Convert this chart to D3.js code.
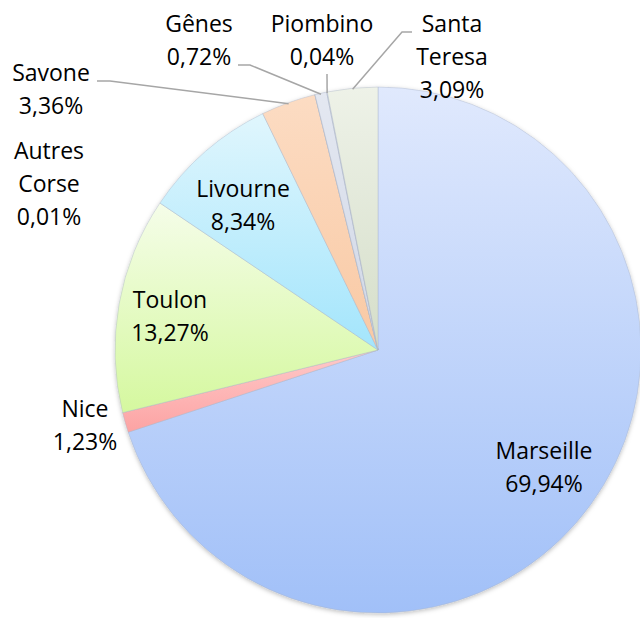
<!DOCTYPE html>
<html>
<head>
<meta charset="utf-8">
<script src="https://cdn.jsdelivr.net/npm/d3@7"></script>
<style>
  body { margin: 0; background: #fff; }
  svg text { font-family: "Open Sans", sans-serif; font-size: 23px; fill: #000; }
</style>
</head>
<body>
<svg id="chart" width="640" height="618"></svg>
<script>
const ports = ["Marseille", "Nice", "Toulon", "Livourne", "Savone", "Autres Corse", "Gênes", "Piombino", "Santa Teresa"];
const shares = [69.94, 1.23, 13.27, 8.34, 3.36, 0.01, 0.72, 0.04, 3.09];
const labelLines = [["Marseille"], ["Nice"], ["Toulon"], ["Livourne"], ["Savone"], ["Autres", "Corse"], ["Gênes"], ["Piombino"], ["Santa", "Teresa"]];

// gradient stops per slice (top, bottom)
const colors = [
	["#e0e9fd", "#a1c0f8"],
	["#ffcaca", "#fca3a3"],
	["#f5fde9", "#d5f89f"],
	["#e0f6fd", "#a3e5fc"],
	["#fcdcc3", "#f9c9a4"],
	["#e4e4e4", "#d0d0d0"],
	["#e4e8f1", "#d0d7e6"],
	["#e4e8f1", "#d0d7e6"],
	["#eef2e8", "#d5dec9"]
];

// label placement (x centre, first baseline) and leader start points
const labelLayout = {
	"Marseille":    {x: 544, y: 459},
	"Nice":         {x: 85,  y: 417},
	"Toulon":       {x: 170, y: 308},
	"Livourne":     {x: 243, y: 197},
	"Savone":       {x: 51,  y: 81,  leader: [[97, 81], [110, 81]]},
	"Autres Corse": {x: 49,  y: 159},
	"Gênes":        {x: 199, y: 32,  leader: [[238, 65], [250, 65]]},
	"Piombino":     {x: 322, y: 32,  leader: [[327, 74]]},
	"Santa Teresa": {x: 452, y: 32,  leader: [[412, 32], [402, 32]]}
};

const cx = 378, cy = 350, radius = 263, lineH = 33;
const fr = d3.formatLocale({decimal: ",", thousands: " ", grouping: [3], currency: ["", "€"]});
const pct = v => fr.format(".2f")(v) + "%";

const data = ports.map((p, i) => ({name: p, value: shares[i], lines: labelLines[i], color: colors[i]}));

const svg = d3.select("#chart");
const defs = svg.append("defs");

defs.append("filter").attr("id", "shadow")
	.attr("x", "-10%").attr("y", "-10%").attr("width", "120%").attr("height", "120%")
	.append("feDropShadow")
	.attr("dx", 0).attr("dy", 1.5).attr("stdDeviation", 2)
	.attr("flood-color", "#000").attr("flood-opacity", 0.25);

data.forEach((d, i) => {
	const g = defs.append("linearGradient").attr("id", "grad" + i)
		.attr("x1", 0).attr("y1", 0).attr("x2", 0).attr("y2", 1);
	g.append("stop").attr("offset", "0%").attr("stop-color", d.color[0]);
	g.append("stop").attr("offset", "100%").attr("stop-color", d.color[1]);
});

const pie = d3.pie().sort(null).value(d => d.value);
const arc = d3.arc().innerRadius(0).outerRadius(radius);
const arcs = pie(data);

const g = svg.append("g").attr("transform", `translate(${cx},${cy})`);

g.append("g").attr("filter", "url(#shadow)")
	.selectAll("path")
	.data(arcs)
	.join("path")
	.attr("d", arc)
	.attr("fill", (d, i) => `url(#grad${i})`)
	.attr("stroke", "rgba(170,180,200,0.55)")
	.attr("stroke-width", 0.75);

// leader lines: from label to the arc edge at the slice mid angle
const edgePoint = d => {
	const a = (d.startAngle + d.endAngle) / 2;
	return [cx + Math.sin(a) * (radius - 1), cy - Math.cos(a) * (radius - 1)];
};

svg.append("g")
	.selectAll("polyline")
	.data(arcs.filter(d => labelLayout[d.data.name].leader))
	.join("polyline")
	.attr("points", d => labelLayout[d.data.name].leader.concat([edgePoint(d)]).map(p => p.join(",")).join(" "))
	.attr("fill", "none")
	.attr("stroke", "#a6a6a6")
	.attr("stroke-width", 1.5);

const labels = svg.append("g")
	.selectAll("text")
	.data(arcs)
	.join("text")
	.attr("text-anchor", "middle")
	.attr("x", d => labelLayout[d.data.name].x)
	.attr("y", d => labelLayout[d.data.name].y);

labels.selectAll("tspan")
	.data(d => d.data.lines.concat([pct(d.data.value)]).map(t => ({t, x: labelLayout[d.data.name].x})))
	.join("tspan")
	.attr("x", d => d.x)
	.attr("dy", (d, i) => i === 0 ? 0 : lineH)
	.text(d => d.t);
</script>
</body>
</html>
